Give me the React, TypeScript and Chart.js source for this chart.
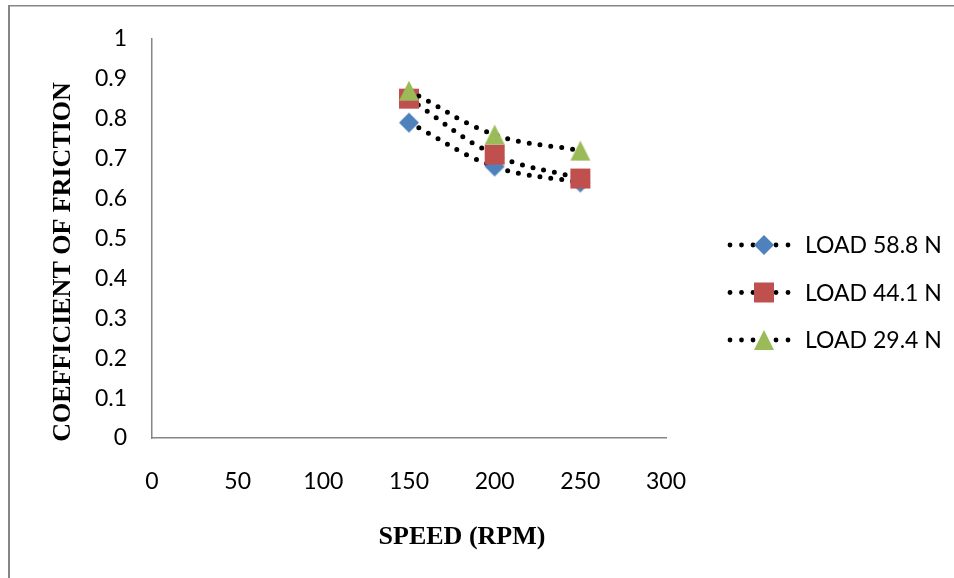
import React, { useEffect, useRef } from 'react';
import { Chart, registerables } from 'chart.js';

Chart.register(...registerables);

// Rotational speed (RPM) at which friction was measured
const speeds = [150, 200, 250];

// Coefficient of friction for each normal load
const load588 = [0.79, 0.68, 0.64];
const load441 = [0.85, 0.71, 0.65];
const load294 = [0.87, 0.76, 0.72];

const seriesLabels = ['LOAD 58.8 N', 'LOAD 44.1 N', 'LOAD 29.4 N'];
const seriesColors = ['#4F81BD', '#C0504D', '#9BBB59'];
const seriesMarkers = ['diamond', 'square', 'triangle'];

const xTickLabels = ['0', '50', '100', '150', '200', '250', '300'];
const yTickLabels = ['0', '0.1', '0.2', '0.3', '0.4', '0.5', '0.6', '0.7', '0.8', '0.9', '1'];

const xTitle = 'SPEED (RPM)';
const yTitle = 'COEFFICIENT OF FRICTION';

const TICK_FONT = '"Lato", "Liberation Sans", sans-serif';
const TITLE_FONT = '"Liberation Serif", "DejaVu Serif", serif';

function markerCanvas(kind: string, color: string): HTMLCanvasElement {
  const size = 22;
  const c = document.createElement('canvas');
  c.width = size;
  c.height = size;
  const g = c.getContext('2d')!;
  drawMarker(g, kind, size / 2, size / 2, color);
  return c;
}

function drawMarker(ctx: CanvasRenderingContext2D, kind: string, x: number, y: number, color: string) {
  ctx.save();
  ctx.fillStyle = color;
  ctx.beginPath();
  if (kind === 'diamond') {
    ctx.moveTo(x, y - 10);
    ctx.lineTo(x + 10, y);
    ctx.lineTo(x, y + 10);
    ctx.lineTo(x - 10, y);
  } else if (kind === 'square') {
    ctx.rect(x - 10, y - 10, 20, 20);
  } else {
    ctx.moveTo(x, y - 10);
    ctx.lineTo(x + 10, y + 10);
    ctx.lineTo(x - 10, y + 10);
  }
  ctx.closePath();
  ctx.fill();
  ctx.restore();
}

const decorPlugin = {
  id: 'decor',
  beforeDraw(chart: any) {
    const { ctx, width, height } = chart;
    ctx.save();
    ctx.fillStyle = '#ffffff';
    ctx.fillRect(0, 0, width, height);
    ctx.fillStyle = '#868686';
    ctx.fillRect(8, 5, width - 8, 1.5);
    ctx.fillRect(8, 5, 2, height - 5);
    ctx.restore();
  },
  afterDraw(chart: any) {
    const { ctx } = chart;
    ctx.save();
    ctx.fillStyle = '#000';

    // axis titles
    ctx.font = `bold 26px ${TITLE_FONT}`;
    ctx.textAlign = 'center';
    ctx.textBaseline = 'alphabetic';
    ctx.fillText(xTitle, 462, 544);
    ctx.save();
    ctx.translate(70, 262);
    ctx.rotate(-Math.PI / 2);
    ctx.fillText(yTitle, 0, 0);
    ctx.restore();

    // legend: dotted line with the series marker in its middle
    ctx.font = `23px ${TICK_FONT}`;
    ctx.textAlign = 'left';
    ctx.textBaseline = 'middle';
    seriesLabels.forEach((label, i) => {
      const y = 245 + i * 47.5;
      ctx.fillStyle = '#000';
      [730, 741.5, 753, 776, 788].forEach((dx) => {
        ctx.beginPath();
        ctx.arc(dx, y, 2.4, 0, Math.PI * 2);
        ctx.fill();
      });
      drawMarker(ctx, seriesMarkers[i], 764, y, seriesColors[i]);
      ctx.fillStyle = '#000';
      ctx.fillText(label, 805, y + 1);
    });
    ctx.restore();
  },
};

export default function App() {
  const canvasRef = useRef<HTMLCanvasElement | null>(null);

  useEffect(() => {
    const canvas = canvasRef.current;
    if (!canvas) return;
    const series = [load588, load441, load294];
    const datasets = series.map((vals, i) => ({
      label: seriesLabels[i],
      data: speeds.map((s, j) => ({ x: s, y: vals[j] })),
      showLine: true,
      borderColor: '#000',
      borderWidth: 5,
      borderDash: [0, 11],
      borderCapStyle: 'round' as const,
      tension: 0.4,
      pointStyle: markerCanvas(seriesMarkers[i], seriesColors[i]),
      pointRadius: 10,
      pointHoverRadius: 10,
      order: 3 - i,
    }));

    const chart = new Chart(canvas, {
      type: 'scatter',
      data: { datasets },
      options: {
        animation: false,
        responsive: false,
        maintainAspectRatio: false,
        layout: { padding: { left: 0, top: 35, right: 288, bottom: 0 } },
        plugins: {
          legend: { display: false },
          tooltip: { enabled: false },
          title: { display: false },
        },
        scales: {
          x: {
            type: 'linear',
            min: 0,
            max: 300,
            afterFit: (scale: any) => {
              scale.height = 140;
            },
            ticks: {
              stepSize: 50,
              padding: 30,
              color: '#000',
              font: { family: TICK_FONT, size: 23 },
              callback: (_v: any, idx: number) => xTickLabels[idx],
            },
            grid: { display: false, drawTicks: false },
            border: { display: true, color: '#868686', width: 1.5 },
          },
          y: {
            type: 'linear',
            min: 0,
            max: 1,
            afterFit: (scale: any) => {
              scale.width = 152;
            },
            ticks: {
              stepSize: 0.1,
              padding: 25,
              color: '#000',
              font: { family: TICK_FONT, size: 23 },
              callback: (_v: any, idx: number) => yTickLabels[idx],
            },
            grid: { display: false, drawTicks: false },
            border: { display: true, color: '#868686', width: 1.5 },
          },
        },
      },
      plugins: [decorPlugin],
    });

    return () => chart.destroy();
  }, []);

  return (
    <div style={{ position: 'fixed', left: 0, top: 0, width: 954, height: 578, background: '#fff' }}>
      <canvas ref={canvasRef} width={954} height={578} style={{ width: 954, height: 578, display: 'block' }} />
    </div>
  );
}
